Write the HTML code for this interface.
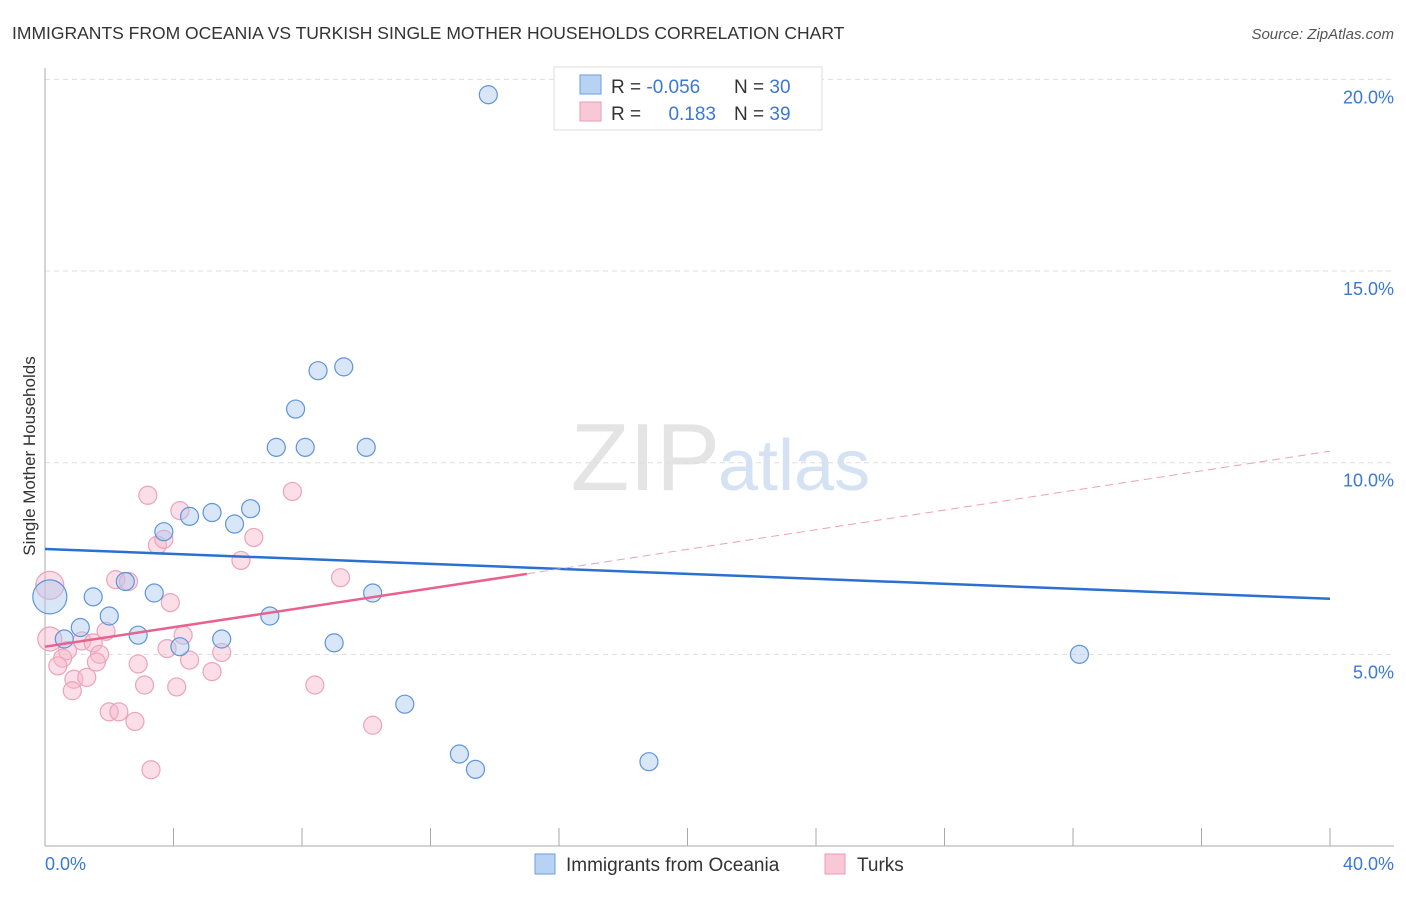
<!DOCTYPE html>
<html><head><meta charset="utf-8"><style>
body{margin:0;background:#fff;font-family:"Liberation Sans",sans-serif;}
svg text{font-family:"Liberation Sans",sans-serif;}
</style></head><body>
<svg id="chart" width="1406" height="892" xmlns="http://www.w3.org/2000/svg">
<text x="12" y="39" font-size="17.5" fill="#333">IMMIGRANTS FROM OCEANIA VS TURKISH SINGLE MOTHER HOUSEHOLDS CORRELATION CHART</text>
<text x="1394" y="39" font-size="15" fill="#555" font-style="italic" text-anchor="end">Source: ZipAtlas.com</text>
<text x="720" y="490" font-size="96" fill="#e4e4e4" text-anchor="end" font-family="Liberation Serif">ZIP</text>
<text x="718" y="490" font-size="72" fill="#d4e2f4">atlas</text>
<g id="grid"></g>
<g id="axes"></g>
<g id="pts"></g>
<g id="lines"></g>
<text x="35" y="456" font-size="17" fill="#333" text-anchor="middle" transform="rotate(-90 35 456)">Single Mother Households</text>
<text x="45" y="870" font-size="18" fill="#3a78d4">0.0%</text>
<text x="1394" y="870" font-size="18" fill="#3a78d4" text-anchor="end">40.0%</text>
<g>
<rect x="554" y="67" width="268" height="63" fill="#fff" stroke="#ddd"/>
<rect x="580" y="75" width="21" height="19" fill="#b8d2f4" stroke="#6a9ee0"/>
<rect x="580" y="102" width="21" height="19" fill="#f9c8d6" stroke="#eb9ab4"/>
<text x="611" y="93" font-size="19" fill="#333">R = <tspan fill="#3a78d4">-0.056</tspan></text>
<text x="734" y="93" font-size="19" fill="#333">N = <tspan fill="#3a78d4">30</tspan></text>
<text x="611" y="120" font-size="19" fill="#333">R = </text>
<text x="716" y="120" font-size="19" fill="#3a78d4" text-anchor="end">0.183</text>
<text x="734" y="120" font-size="19" fill="#333">N = <tspan fill="#3a78d4">39</tspan></text>
</g>
<g>
<rect x="535" y="854" width="20" height="20" fill="#b8d2f4" stroke="#6a9ee0"/>
<text x="566" y="871" font-size="19" fill="#333">Immigrants from Oceania</text>
<rect x="825" y="854" width="20" height="20" fill="#f9c8d6" stroke="#eb9ab4"/>
<text x="857" y="871" font-size="19" fill="#333">Turks</text>
</g>
</svg>
<script>
const yTicks=[5,10,15,20];
const yTickLabels=["5.0%","10.0%","15.0%","20.0%"];
const xTicks=[0,4,8,12,16,20,24,28,32,36,40];
const blueX=[13.8,8.5,9.3,7.8,7.2,8.1,10.0,5.2,6.4,4.5,5.9,3.7,2.5,3.4,1.5,2.0,7.0,10.2,1.1,2.9,0.6,4.2,5.5,9.0,11.2,12.9,13.4,18.8,32.2,0.15];
const blueY=[19.6,12.4,12.5,11.4,10.4,10.4,10.4,8.7,8.8,8.6,8.4,8.2,6.9,6.6,6.5,6.0,6.0,6.6,5.7,5.5,5.4,5.2,5.4,5.3,3.7,2.4,2.0,2.2,5.0,6.5];
const blueR=[9,9,9,9,9,9,9,9,9,9,9,9,9,9,9,9,9,9,9,9,9,9,9,9,9,9,9,9,9,17];
const pinkX=[3.2,4.2,7.7,3.5,3.7,6.5,6.1,2.2,2.6,0.15,9.2,3.9,1.9,1.15,1.5,4.3,0.15,0.7,1.7,3.8,5.5,0.55,1.6,2.9,4.5,0.4,0.9,1.3,0.85,5.2,3.1,4.1,8.4,2.0,2.3,2.8,10.2,3.3];
const pinkY=[9.15,8.75,9.25,7.85,8.0,8.05,7.45,6.95,6.9,6.8,7.0,6.35,5.6,5.35,5.3,5.5,5.4,5.1,5.0,5.15,5.05,4.9,4.8,4.75,4.85,4.7,4.35,4.4,4.05,4.55,4.2,4.15,4.2,3.5,3.5,3.25,3.15,1.99];
const pinkR=[9,9,9,9,9,9,9,9,9,14,9,9,9,9,9,9,12,9,9,9,9,9,9,9,9,9,9,9,9,9,9,9,9,9,9,9,9,9];
const blueLine=[[0,7.75],[40,6.45]];
const pinkSolid=[[0,5.2],[15,7.1]];
const pinkDash=[[15,7.1],[40,10.3]];
const X=v=>45+v*32.125, Y=v=>846-v*38.33;
const NS="http://www.w3.org/2000/svg";
function mk(tag,attrs,parent){const e=document.createElementNS(NS,tag);for(const k in attrs)e.setAttribute(k,attrs[k]);document.getElementById(parent).appendChild(e);return e;}
yTicks.forEach((t,i)=>{
 const g=mk('line',{x1:45,x2:1394,y1:Y(t),y2:Y(t),stroke:'#ddd','stroke-dasharray':'5,4'},'grid');
 
 
 const l=mk('text',{x:1394,y:Y(t)+24,'font-size':18,fill:'#3a78d4','text-anchor':'end'},'grid');
 l.textContent=yTickLabels[i];
 
 
});
const ax=mk('line',{x1:45,x2:45,y1:68,y2:846,stroke:'#aaa'},'axes');


const bx=mk('line',{x1:45,x2:1394,y1:846,y2:846,stroke:'#aaa'},'axes');


xTicks.forEach(t=>{if(t===0)return;
 const k=mk('line',{x1:X(t),x2:X(t),y1:828,y2:846,stroke:'#aaa'},'axes');
 
 
});
pinkX.forEach((x,i)=>{
 const c=mk('circle',{cx:X(x),cy:Y(pinkY[i]),r:pinkR[i],fill:'rgba(247,182,202,0.45)',stroke:'#eca3bb','stroke-width':1.2},'pts');
 
 
});
blueX.forEach((x,i)=>{
 const c=mk('circle',{cx:X(x),cy:Y(blueY[i]),r:blueR[i],fill:'rgba(170,200,240,0.45)',stroke:'#5e95db','stroke-width':1.2},'pts');
 
 
});
const bl=mk('line',{x1:X(blueLine[0][0]),y1:Y(blueLine[0][1]),x2:X(blueLine[1][0]),y2:Y(blueLine[1][1]),stroke:'#2a70d0','stroke-width':2.5},'lines');


const ps=mk('line',{x1:X(pinkSolid[0][0]),y1:Y(pinkSolid[0][1]),x2:X(pinkSolid[1][0]),y2:Y(pinkSolid[1][1]),stroke:'#e8628f','stroke-width':2.5},'lines');


const pd=mk('line',{x1:X(pinkDash[0][0]),y1:Y(pinkDash[0][1]),x2:X(pinkDash[1][0]),y2:Y(pinkDash[1][1]),stroke:'#eba0b8','stroke-width':1,'stroke-dasharray':'8,5'},'lines');


</script>
</body></html>
